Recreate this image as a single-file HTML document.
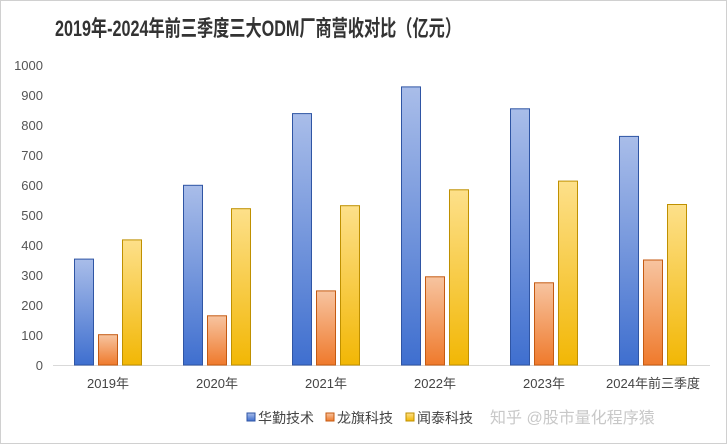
<!DOCTYPE html>
<html><head><meta charset="utf-8"><style>
html,body{margin:0;padding:0;background:#fff}
svg{display:block}
text{font-family:"Liberation Sans","Noto Sans CJK SC",sans-serif}
</style></head><body>
<svg width="727" height="444" viewBox="0 0 727 444" xmlns="http://www.w3.org/2000/svg">
<defs>
<linearGradient id="gb" x1="0" y1="0" x2="0" y2="1"><stop offset="0" stop-color="#a9bde9"/><stop offset="1" stop-color="#3f6fcf"/></linearGradient>
<linearGradient id="go" x1="0" y1="0" x2="0" y2="1"><stop offset="0" stop-color="#f7c4a0"/><stop offset="1" stop-color="#ef7a2c"/></linearGradient>
<linearGradient id="gy" x1="0" y1="0" x2="0" y2="1"><stop offset="0" stop-color="#fde08a"/><stop offset="1" stop-color="#f2b705"/></linearGradient>
</defs>
<rect x="0.5" y="0.5" width="726" height="443" fill="#fff" stroke="#d0d0d0"/>
<text x="55" y="36" font-size="22" font-weight="bold" fill="#333" textLength="406" lengthAdjust="spacingAndGlyphs">2019年-2024年前三季度三大ODM厂商营收对比（亿元）</text>
<g font-size="13" fill="#555" text-anchor="end">
<text x="43" y="70">1000</text><text x="43" y="100">900</text><text x="43" y="130">800</text><text x="43" y="160">700</text><text x="43" y="190">600</text><text x="43" y="220">500</text><text x="43" y="250">400</text><text x="43" y="280">300</text><text x="43" y="310">200</text><text x="43" y="340">100</text><text x="43" y="370">0</text>
</g>
<line x1="53" y1="365.5" x2="710" y2="365.5" stroke="#d9d9d9"/>
<g stroke="#2f55a4" fill="url(#gb)">
<rect x="74.5" y="259.1" width="19" height="105.9"/>
<rect x="183.5" y="185.3" width="19" height="179.7"/>
<rect x="292.5" y="113.6" width="19" height="251.4"/>
<rect x="401.5" y="86.9" width="19" height="278.1"/>
<rect x="510.5" y="108.8" width="19" height="256.2"/>
<rect x="619.5" y="136.4" width="19" height="228.6"/>
</g>
<g stroke="#c55a11" fill="url(#go)">
<rect x="98.5" y="334.7" width="19" height="30.3"/>
<rect x="207.5" y="315.8" width="19" height="49.2"/>
<rect x="316.5" y="290.9" width="19" height="74.1"/>
<rect x="425.5" y="276.8" width="19" height="88.2"/>
<rect x="534.5" y="282.8" width="19" height="82.2"/>
<rect x="643.5" y="260" width="19" height="105"/>
</g>
<g stroke="#bf9000" fill="url(#gy)">
<rect x="122.5" y="239.9" width="19" height="125.1"/>
<rect x="231.5" y="208.7" width="19" height="156.3"/>
<rect x="340.5" y="205.7" width="19" height="159.3"/>
<rect x="449.5" y="189.8" width="19" height="175.2"/>
<rect x="558.5" y="181.1" width="19" height="183.9"/>
<rect x="667.5" y="204.5" width="19" height="160.5"/>
</g>
<g font-size="13" fill="#444" text-anchor="middle">
<text x="108" y="388">2019年</text><text x="217" y="388">2020年</text><text x="326" y="388">2021年</text><text x="435" y="388">2022年</text><text x="544" y="388">2023年</text><text x="653" y="388">2024年前三季度</text>
</g>
<g font-size="14" fill="#444">
<rect x="247" y="413" width="8" height="8" fill="url(#gb)" stroke="#2f55a4"/><text x="258" y="423">华勤技术</text>
<rect x="326" y="413" width="8" height="8" fill="url(#go)" stroke="#c55a11"/><text x="337" y="423">龙旗科技</text>
<rect x="406" y="413" width="8" height="8" fill="url(#gy)" stroke="#bf9000"/><text x="417" y="423">闻泰科技</text>
</g>
<text x="490" y="423" font-size="16" fill="#c8c8c8">知乎 @股市量化程序猿</text>
</svg>
</body></html>
